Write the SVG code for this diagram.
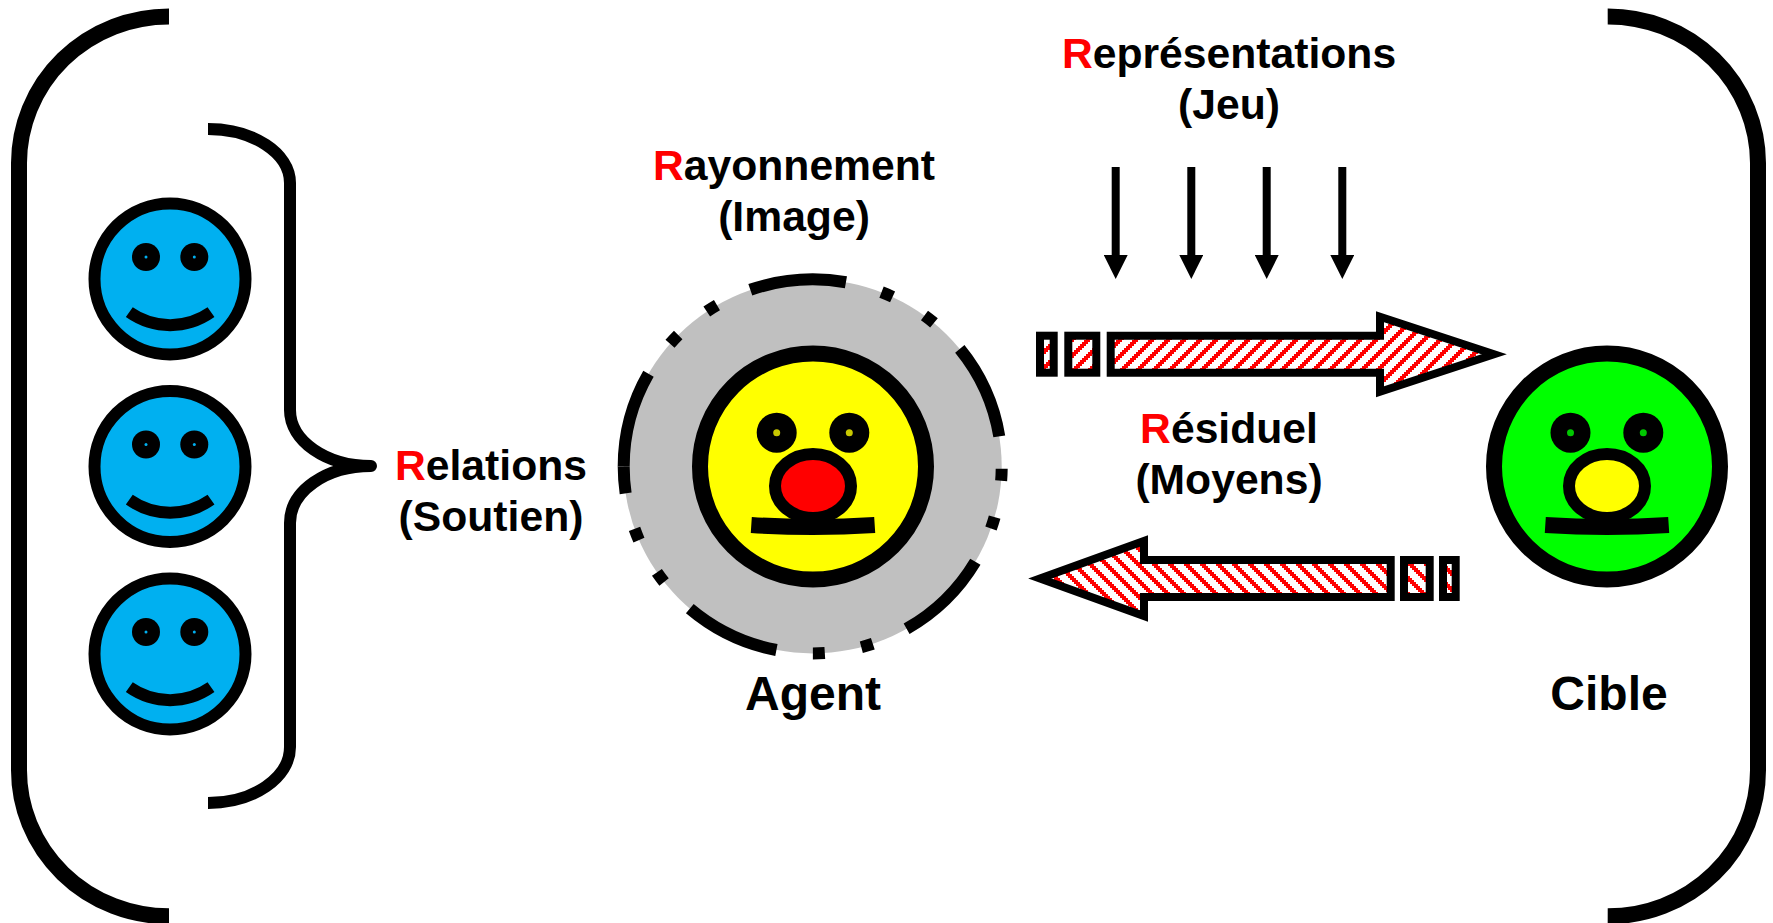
<svg xmlns="http://www.w3.org/2000/svg" width="1773" height="923" viewBox="0 0 1773 923">
<style>
.t{font-family:"Liberation Sans",Arial,sans-serif;font-weight:700;font-size:42.67px;fill:#000;text-anchor:middle}
.big{font-size:48px}
.r{fill:#f00}
.ln{fill:none;stroke:#000}
.ring{stroke-dasharray:97 37 12 37 12 36.7}
.face{stroke:#000;stroke-width:16}
.blue{fill:#00b0f0;stroke:#000;stroke-width:12}
.eye{fill:#000}
.mouth{fill:none;stroke:#000;stroke-width:16}
.smile{fill:none;stroke:#000;stroke-width:12}
.nose{stroke:#000;stroke-width:12}
.hatch{stroke:#000;stroke-width:8;stroke-linejoin:miter;stroke-miterlimit:10}
</style>
<defs>
<pattern id="hr" patternUnits="userSpaceOnUse" width="16" height="16">
<rect width="16" height="16" fill="#fff"/>
<path fill="#f00" shape-rendering="crispEdges" d="M0 0h6v2h-6zM14 2h2v2h-2zM0 2h4v2h-4zM12 4h4v2h-4zM0 4h2v2h-2zM10 6h6v2h-6zM8 8h6v2h-6zM6 10h6v2h-6zM4 12h6v2h-6zM2 14h6v2h-6z"/>
</pattern>
<pattern id="hl" patternUnits="userSpaceOnUse" width="16" height="16">
<rect width="16" height="16" fill="#fff"/>
<path fill="#f00" shape-rendering="crispEdges" d="M12 0h4v2h-4zM0 0h2v2h-2zM14 2h2v2h-2zM0 2h4v2h-4zM0 4h6v2h-6zM2 6h6v2h-6zM4 8h6v2h-6zM6 10h6v2h-6zM8 12h6v2h-6zM10 14h6v2h-6z"/>
</pattern>
<marker id="ah" markerUnits="userSpaceOnUse" markerWidth="24" markerHeight="24" refX="0" refY="12" orient="auto">
<path d="M0 0L24 12L0 24Z" fill="#000"/>
</marker>
</defs>
<g id="brackets">
<path class="ln" stroke-width="16" d="M169 16.400A150 147 0 0 0 19 163V770A150 146 0 0 0 169 916.300"/>
<path class="ln" stroke-width="16" d="M1607.700 16.400A150 147 0 0 1 1758 163V770A150 146 0 0 1 1607.700 916.300"/>
</g>
<g id="support-brace">
<path class="ln" stroke-width="12" stroke-linejoin="round" d="M208 129C253 129 290 153 290 183V410C290 441 326 466 371 466C326 466 290 491 290 523V747C290 778 253 803 208 803"/>
</g>
<g id="support-1">
<circle class="blue" cx="170" cy="279" r="75.500"/>
<circle class="eye" cx="146" cy="257" r="14"/><circle cx="146" cy="257" r="1.500" fill="#00b0f0"/>
<circle class="eye" cx="194.300" cy="257" r="14"/><circle cx="194.300" cy="257" r="1.500" fill="#00b0f0"/>
<path class="smile" d="M129.300 312.200A71 71 0 0 0 211 312.200"/>
</g>
<g id="support-2">
<circle class="blue" cx="170" cy="466.500" r="75.500"/>
<circle class="eye" cx="146" cy="444.500" r="14"/><circle cx="146" cy="444.500" r="1.500" fill="#00b0f0"/>
<circle class="eye" cx="194.300" cy="444.500" r="14"/><circle cx="194.300" cy="444.500" r="1.500" fill="#00b0f0"/>
<path class="smile" d="M129.300 499.700A71 71 0 0 0 211 499.700"/>
</g>
<g id="support-3">
<circle class="blue" cx="170" cy="654" r="75.500"/>
<circle class="eye" cx="146" cy="632" r="14"/><circle cx="146" cy="632" r="1.500" fill="#00b0f0"/>
<circle class="eye" cx="194.300" cy="632" r="14"/><circle cx="194.300" cy="632" r="1.500" fill="#00b0f0"/>
<path class="smile" d="M129.300 687.200A71 71 0 0 0 211 687.200"/>
</g>
<g id="agent">
<ellipse cx="812.700" cy="466.400" rx="189" ry="187" fill="#c0c0c0"/>
<path class="ln ring" stroke-width="12" d="M623.700 466.400A189 187 0 1 1 1001.700 466.400"/>
<path class="ln ring" stroke-width="12" stroke-dashoffset="595" d="M1001.700 466.400A189 187 0 1 1 623.700 466.400"/>
<circle class="face" cx="813" cy="466.500" r="113" fill="#ff0"/>
<circle class="eye" cx="776.700" cy="432.700" r="20"/><circle cx="776.700" cy="432.700" r="3.500" fill="#c8c800"/>
<circle class="eye" cx="849.300" cy="432.700" r="20"/><circle cx="849.300" cy="432.700" r="3.500" fill="#c8c800"/>
<ellipse class="nose" cx="813" cy="486" rx="38" ry="32" fill="#f00"/>
<path class="mouth" d="M751.300 525Q813 529 874.700 525"/>
</g>
<g id="target">
<circle class="face" cx="1607" cy="466.500" r="113" fill="#0f0"/>
<circle class="eye" cx="1570.500" cy="432.700" r="20"/><circle cx="1570.500" cy="432.700" r="3.500" fill="#00c800"/>
<circle class="eye" cx="1643.300" cy="432.700" r="20"/><circle cx="1643.300" cy="432.700" r="3.500" fill="#00c800"/>
<ellipse class="nose" cx="1607" cy="486" rx="38" ry="32" fill="#ff0"/>
<path class="mouth" d="M1545.300 525Q1607 529 1668.700 525"/>
</g>
<g id="connectors">
<g id="representations-arrows" class="ln" stroke-width="8">
<path marker-end="url(#ah)" d="M1115.700 167V255"/>
<path marker-end="url(#ah)" d="M1191.300 167V255"/>
<path marker-end="url(#ah)" d="M1266.700 167V255"/>
<path marker-end="url(#ah)" d="M1342.300 167V255"/>
</g>
<g id="arrow-right" class="hatch" fill="url(#hr)">
<rect x="1040" y="335.700" width="13.700" height="37"/>
<rect x="1068.300" y="335.700" width="28" height="37"/>
<path d="M1110.700 335.700H1380V316.700L1494 354.200L1380 391.700V372.700H1110.700Z"/>
</g>
<g id="arrow-left" class="hatch" fill="url(#hl)">
<path d="M1390.700 560H1144V541L1040 578.500L1144 616V597H1390.700Z"/>
<rect x="1404" y="560" width="25.700" height="37"/>
<rect x="1443" y="560" width="12.700" height="37"/>
</g>
</g>
<g id="labels">
<text class="t" x="491" y="480"><tspan class="r">R</tspan>elations</text>
<text class="t" x="491" y="531">(Soutien)</text>
<text class="t" x="794" y="180"><tspan class="r">R</tspan>ayonnement</text>
<text class="t" x="794" y="231">(Image)</text>
<text class="t" x="1229" y="68"><tspan class="r">R</tspan>eprésentations</text>
<text class="t" x="1229" y="119">(Jeu)</text>
<text class="t" x="1229" y="443"><tspan class="r">R</tspan>ésiduel</text>
<text class="t" x="1229" y="494">(Moyens)</text>
<text class="t big" x="813" y="710">Agent</text>
<text class="t big" x="1609" y="710">Cible</text>
</g>
</svg>
